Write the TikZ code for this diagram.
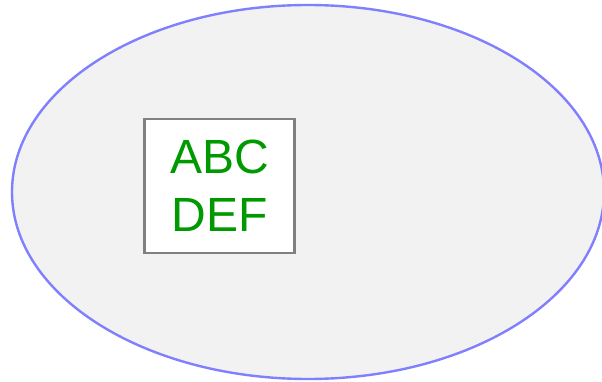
\documentclass[tikz,border=0pt]{standalone}
\usepackage{fontspec}
\setmainfont{Liberation Sans}
\definecolor{ringblue}{HTML}{8080FF}
\definecolor{ringfill}{HTML}{F2F2F2}
\definecolor{labelgreen}{HTML}{009900}
\begin{document}
\begin{tikzpicture}[x=1pt,y=-1pt]
        \useasboundingbox (0,0) rectangle (602,382);

        \draw [draw=ringblue, line width=2.4pt, fill=ringfill] (308,192) ellipse [x radius=296, y radius=187];

        \node [draw=gray, line width=2.4pt, fill=white, minimum width=150pt, minimum height=134pt,
               align=center, text=labelgreen, font=\fontsize{48}{57.7}\selectfont] (label) at (219.5,186) {ABC\\DEF};

\end{tikzpicture}
\end{document}
